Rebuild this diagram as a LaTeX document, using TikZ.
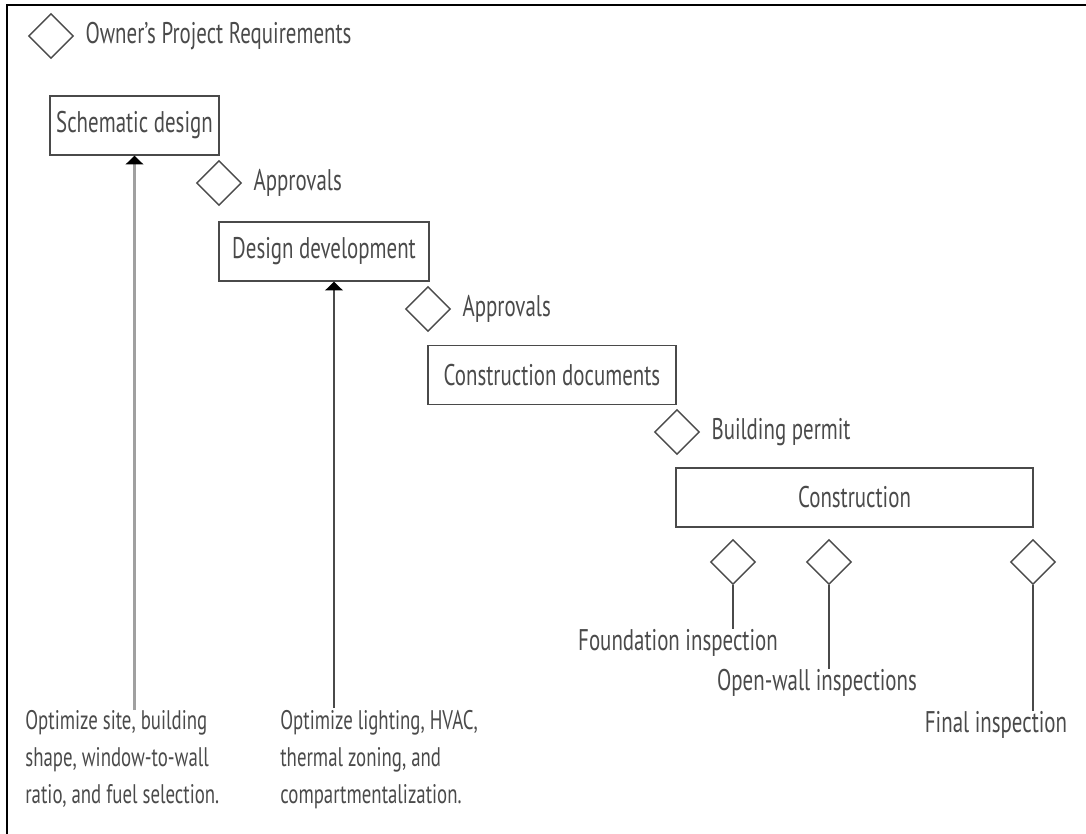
\documentclass[tikz,border=0pt]{standalone}
\usepackage{fontspec}
\setmainfont{PT Sans}[FakeStretch=0.7]
\usepackage{xcolor}
\usepackage{tikz}
\usetikzlibrary{arrows.meta, positioning, calc, shapes.geometric}
\definecolor{inkgray}{HTML}{4A4A4A}
\definecolor{palegray}{HTML}{A0A0A0}

\begin{document}
\begin{tikzpicture}[
    x=0.02cm, y=-0.02cm,
    node distance=0.22cm,
    phase/.style={draw=inkgray, line width=0.8pt, minimum height=1.18cm,
                  inner sep=2pt, font=\fontsize{17}{20}\selectfont, text=inkgray},
    gate/.style={diamond, draw=inkgray, line width=0.8pt, minimum width=0.9cm,
                 minimum height=0.9cm, inner sep=0pt},
    lbl/.style={inner sep=0pt, font=\fontsize{17}{20}\selectfont, text=inkgray},
    note/.style={inner sep=0pt, align=left, font=\fontsize{15.3}{21}\selectfont, text=inkgray},
    arr/.style={-{Triangle[width=10pt, length=5pt, color=black]}, line width=1.2pt}
  ]
  \useasboundingbox (0,0) rectangle (1086,834);
  \draw[line width=1.2pt] (1086,5) -- (7,5) -- (7,834);

  % phases and approvals
  \node[gate] (opr) at (51,36) {};
  \node[lbl, right=of opr] (oprtxt) {Owner's Project Requirements};
  \node[phase, minimum width=3.38cm] (sd) at (134.5,125.5) {Schematic design};
  \node[gate] (ap1) at (219,183) {};
  \node[lbl, right=of ap1] (ap1txt) {Approvals};
  \node[phase, minimum width=4.2cm] (dd) at (324,251.5) {Design development};
  \node[gate] (ap2) at (428,309) {};
  \node[lbl, right=of ap2] (ap2txt) {Approvals};
  \node[phase, minimum width=4.96cm] (cd) at (552,375) {Construction documents};
  \node[gate] (bp) at (677,432) {};
  \node[lbl, right=of bp] (bptxt) {Building permit};
  \node[phase, minimum width=7.14cm] (con) at (854.5,497.5) {Construction};

  % inspections
  \node[gate] (in1) at (733,562) {};
  \node[gate] (in2) at (829,562) {};
  \node[gate] (in3) at (1033,562) {};
  \node[lbl] (in1txt) at (678,643) {Foundation inspection};
  \node[lbl] (in2txt) at (817,683) {Open-wall inspections};
  \node[lbl] (in3txt) at (996,725) {Final inspection};
  \draw[inkgray, line width=1pt] (in1.south) -- (in1.south |- in1txt.north);
  \draw[inkgray, line width=1pt] (in2.south) -- (in2.south |- in2txt.north);
  \draw[inkgray, line width=1pt] (in3.south) -- (in3.south |- in3txt.north);

  % notes
  \node[note, anchor=north west] (opt1) at (25,710)
    {Optimize site, building\\shape, window-to-wall\\ratio, and fuel selection.};
  \node[note, anchor=north west] (opt2) at (280,710)
    {Optimize lighting, HVAC,\\thermal zoning, and\\compartmentalization.};
  \coordinate (a2) at (334,708);
  \draw[arr, palegray] (sd.south |- opt1.north) -- (sd.south);
  \draw[arr, inkgray] (a2) -- (a2 |- dd.south);
\end{tikzpicture}
\end{document}
